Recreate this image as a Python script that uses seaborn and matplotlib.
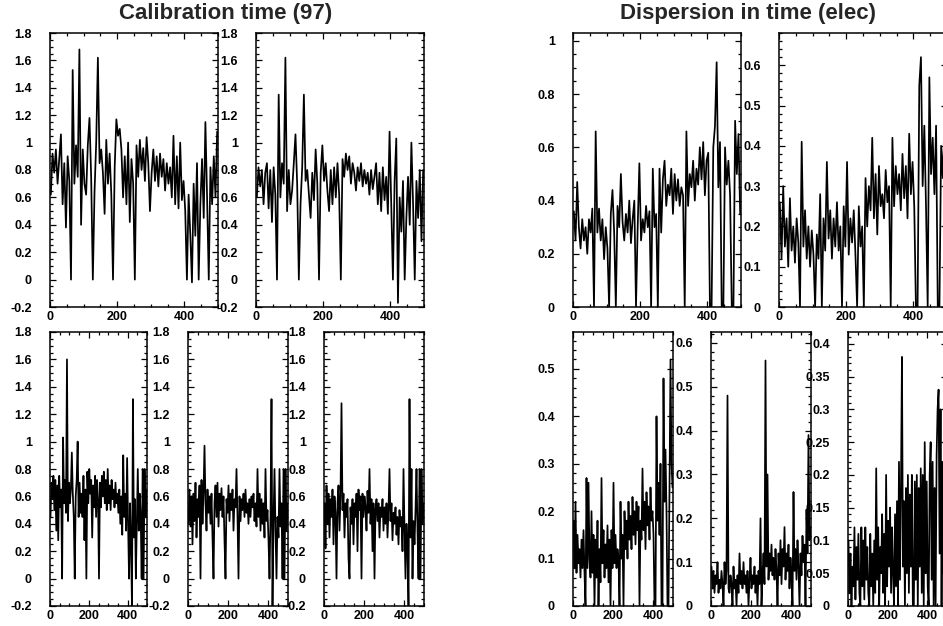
import numpy as np
import pandas as pd
import matplotlib
matplotlib.use("Agg")
import matplotlib.pyplot as plt
import seaborn as sns
from matplotlib.ticker import MultipleLocator, FuncFormatter

# ---------------- data (5-channel resolution) ----------------
channels = list(np.arange(2.5, 500, 5))

cal_a = [0.62, 0.92, 0.78, 0.95, 0.70, 0.88, 1.06, 0.55, 0.85, 0.38,
         0.90, 0.72, 0.0, 1.53, 0.70, 0.98, 0.75, 1.68, 0.40, 0.95,
         0.70, 0.62, 0.98, 1.18, 0.75, 0.0, 0.64, 1.00, 1.62, 0.85,
         0.95, 0.78, 0.48, 1.02, 0.70, 0.92, 0.62, 0.0, 0.82, 1.17,
         1.05, 1.10, 0.95, 0.60, 0.90, 0.55, 1.00, 0.42, 0.88, 0.70,
         0.0, 0.98, 0.75, 1.02, 0.80, 0.96, 0.72, 1.04, 0.85, 0.50,
         0.78, 0.95, 0.72, 0.90, 0.68, 0.92, 0.75, 0.88, 0.65, 0.85,
         0.70, 0.82, 0.60, 1.05, 0.55, 0.90, 0.52, 1.00, 0.58, 0.72,
         0.50, 0.0, 0.62, 0.33, -0.02, 0.70, 0.32, 0.85, 0.0, 0.55,
         0.88, 0.45, 1.15, 0.60, 0.0, 0.82, 0.55, 0.90, 0.60, 1.08]

cal_b = [0.60, 0.82, 0.68, 0.80, 0.55, 0.78, 0.85, 0.52, 0.80, 0.42,
         0.82, 0.62, 0.0, 1.35, 0.60, 0.85, 0.70, 1.62, 0.50, 0.80,
         0.55, 0.65, 0.85, 1.06, 0.70, 0.0, 0.55, 0.82, 1.35, 0.72,
         0.80, 0.62, 0.45, 0.78, 0.58, 0.95, 0.70, 0.0, 0.78, 0.98,
         0.72, 0.85, 0.65, 0.50, 0.80, 0.55, 0.82, 0.60, 0.85, 0.62,
         0.0, 0.88, 0.75, 0.92, 0.80, 0.90, 0.70, 0.85, 0.78, 0.65,
         0.82, 0.72, 0.85, 0.68, 0.80, 0.70, 0.78, 0.62, 0.80, 0.66,
         0.75, 0.85, 0.55, 0.78, 0.50, 0.82, 0.58, 0.75, 0.48, 1.08,
         0.55, 0.0, 0.72, 1.03, -0.17, 0.60, 0.35, 0.72, 0.0, 0.45,
         0.75, 0.40, 1.00, 0.55, 0.0, 0.72, 0.45, 0.80, 0.28, 0.80]

cal_c = [0.45, 0.70, 0.58, 0.75, 0.50, 0.72, 0.35, 0.68, 0.28, 0.75,
         0.52, 0.65, 0.0, 1.03, 0.55, 0.72, 0.48, 1.60, 0.42, 0.70,
         0.55, 0.65, 0.92, 0.62, 0.45, 0.0, 0.60, 0.72, 1.00, 0.45,
         0.70, 0.48, 0.62, 0.45, 0.75, 0.28, 0.65, 0.0, 0.78, 0.55,
         0.80, 0.62, 0.72, 0.30, 0.68, 0.52, 0.75, 0.45, 0.72, 0.58,
         0.0, 0.70, 0.52, 0.75, 0.60, 0.78, 0.55, 0.72, 0.50, 0.80,
         0.55, 0.68, 0.50, 0.72, 0.58, 0.65, 0.52, 0.70, 0.55, 0.62,
         0.48, 0.65, 0.40, 0.60, 0.32, 0.90, 0.45, 0.62, 0.35, 0.88,
         0.40, 0.0, 0.55, 0.25, -0.20, 1.31, 0.30, 0.58, 0.0, 0.40,
         0.80, 0.35, 0.62, 0.45, 0.0, 0.80, 0.0, 0.80, 0.45, 0.65]

cal_d = [0.40, 0.65, 0.38, 0.60, 0.25, 0.62, 0.42, 0.70, 0.30, 0.58,
         0.45, 0.68, 0.0, 0.72, 0.40, 0.62, 0.97, 0.55, 0.35, 0.65,
         0.48, 0.60, 0.40, 0.62, 0.30, 0.0, 0.55, 0.68, 0.45, 0.70,
         0.38, 0.62, 0.50, 0.66, 0.45, 0.60, 0.28, 0.0, 0.58, 0.48,
         0.68, 0.42, 0.62, 0.50, 0.65, 0.35, 0.58, 0.52, 0.80, 0.45,
         0.0, 0.60, 0.42, 0.58, 0.50, 0.62, 0.45, 0.65, 0.48, 0.55,
         0.40, 0.58, 0.45, 0.60, 0.52, 0.62, 0.42, 0.55, 0.38, 0.80,
         0.45, 0.62, 0.35, 0.58, 0.40, 0.55, 0.30, 0.80, 0.42, 0.50,
         0.28, 0.0, 0.45, 1.31, -0.20, 0.42, 0.80, 0.35, 0.0, 0.45,
         0.30, 0.80, 0.38, 0.55, 0.0, 0.80, 0.0, 0.80, 0.35, 0.55]

cal_e = [0.55, 0.22, 0.68, 0.40, 0.62, 0.30, 0.58, 0.45, 0.65, 0.25,
         0.60, 0.48, 0.0, 0.55, 0.68, 0.35, 0.60, 1.28, 0.50, 0.62,
         0.30, 0.55, 0.45, 0.58, 0.15, 0.0, 0.52, 0.40, 0.58, 0.25,
         0.55, 0.45, 0.62, 0.20, 0.65, 0.50, 0.60, 0.0, 0.62, 0.45,
         0.60, 0.52, 0.35, 0.64, 0.48, 0.80, 0.40, 0.58, 0.20, 0.55,
         0.0, 0.50, 0.58, 0.42, 0.55, 0.30, 0.52, 0.45, 0.58, 0.35,
         0.52, 0.40, 0.55, 0.30, 0.50, 0.80, 0.42, 0.55, 0.28, 0.48,
         0.40, 0.52, 0.32, 0.45, 0.25, 0.50, 0.38, 0.45, 0.20, 0.80,
         0.35, 0.0, 0.40, 0.22, -0.20, 1.31, 0.30, 0.80, 0.0, 0.42,
         0.25, 0.50, 0.80, 0.35, 0.0, 0.80, 0.0, 0.80, 0.40, 0.55]

disp_a = [0.36, 0.25, 0.47, 0.30, 0.22, 0.33, 0.25, 0.30, 0.20, 0.33,
          0.28, 0.37, 0.0, 0.66, 0.28, 0.37, 0.25, 0.33, 0.18, 0.30,
          0.22, 0.0, 0.35, 0.44, 0.28, 0.0, 0.38, 0.30, 0.50, 0.32,
          0.25, 0.35, 0.28, 0.40, 0.24, 0.33, 0.40, 0.0, 0.30, 0.54,
          0.25, 0.33, 0.28, 0.38, 0.30, 0.36, 0.0, 0.52, 0.30, 0.35,
          0.0, 0.52, 0.28, 0.48, 0.55, 0.38, 0.46, 0.42, 0.52, 0.35,
          0.50, 0.40, 0.48, 0.38, 0.45, 0.42, 0.0, 0.66, 0.38, 0.50,
          0.45, 0.55, 0.40, 0.52, 0.46, 0.60, 0.48, 0.62, 0.42, 0.55,
          0.58, 0.0, 0.0, 0.60, 0.68, 0.92, 0.45, 0.62, 0.0, 0.0,
          0.60, 0.46, 0.55, 0.42, 0.0, 0.0, 0.70, 0.50, 0.65, 0.35]

disp_b = [0.26, 0.12, 0.30, 0.15, 0.22, 0.10, 0.27, 0.14, 0.20, 0.11,
          0.22, 0.16, 0.0, 0.41, 0.15, 0.24, 0.12, 0.20, 0.10, 0.19,
          0.13, 0.0, 0.18, 0.12, 0.28, 0.0, 0.22, 0.14, 0.36, 0.17,
          0.24, 0.12, 0.22, 0.15, 0.26, 0.14, 0.20, 0.0, 0.25, 0.15,
          0.36, 0.13, 0.22, 0.16, 0.24, 0.13, 0.0, 0.25, 0.15, 0.20,
          0.0, 0.32, 0.20, 0.30, 0.24, 0.42, 0.22, 0.33, 0.18, 0.35,
          0.25, 0.28, 0.22, 0.34, 0.26, 0.30, 0.0, 0.42, 0.25, 0.35,
          0.28, 0.33, 0.24, 0.38, 0.27, 0.35, 0.22, 0.43, 0.28, 0.36,
          0.25, 0.0, 0.0, 0.55, 0.62, 0.30, 0.45, 0.25, 0.0, 0.57,
          0.33, 0.42, 0.28, 0.45, 0.0, 0.0, 0.40, 0.32, 0.46, 0.35]

disp_c = [0.18, 0.08, 0.22, 0.07, 0.15, 0.09, 0.12, 0.06, 0.14, 0.08,
          0.16, 0.07, 0.0, 0.27, 0.08, 0.26, 0.10, 0.06, 0.20, 0.07,
          0.15, 0.0, 0.14, 0.06, 0.18, 0.0, 0.12, 0.05, 0.27, 0.09,
          0.16, 0.06, 0.13, 0.08, 0.17, 0.05, 0.14, 0.0, 0.16, 0.08,
          0.26, 0.09, 0.15, 0.08, 0.12, 0.10, 0.0, 0.22, 0.10, 0.15,
          0.0, 0.20, 0.12, 0.18, 0.10, 0.22, 0.14, 0.19, 0.12, 0.23,
          0.15, 0.20, 0.13, 0.22, 0.16, 0.21, 0.0, 0.18, 0.14, 0.29,
          0.16, 0.22, 0.12, 0.24, 0.17, 0.21, 0.14, 0.25, 0.18, 0.20,
          0.15, 0.0, 0.0, 0.40, 0.18, 0.26, 0.15, 0.30, 0.0, 0.0,
          0.48, 0.22, 0.33, 0.20, 0.0, 0.0, 0.25, 0.52, 0.30, 0.25]

disp_d = [0.09, 0.04, 0.08, 0.03, 0.07, 0.05, 0.10, 0.03, 0.06, 0.04,
          0.08, 0.05, 0.0, 0.10, 0.05, 0.08, 0.48, 0.04, 0.03, 0.07,
          0.05, 0.0, 0.09, 0.04, 0.06, 0.0, 0.07, 0.03, 0.12, 0.05,
          0.08, 0.04, 0.10, 0.05, 0.07, 0.03, 0.08, 0.0, 0.06, 0.11,
          0.04, 0.07, 0.05, 0.09, 0.03, 0.07, 0.0, 0.08, 0.05, 0.20,
          0.0, 0.07, 0.12, 0.05, 0.56, 0.09, 0.30, 0.06, 0.12, 0.08,
          0.14, 0.07, 0.11, 0.06, 0.13, 0.08, 0.0, 0.12, 0.07, 0.15,
          0.05, 0.13, 0.09, 0.18, 0.06, 0.12, 0.08, 0.14, 0.04, 0.11,
          0.07, 0.0, 0.26, 0.08, 0.13, 0.06, 0.15, 0.09, 0.0, 0.12,
          0.07, 0.16, 0.10, 0.14, 0.0, 0.22, 0.12, 0.39, 0.15, 0.18]

disp_e = [0.10, 0.02, 0.08, 0.0, 0.06, 0.03, 0.12, 0.01, 0.09, 0.04,
          0.11, 0.02, 0.0, 0.12, 0.03, 0.10, 0.01, 0.12, 0.04, 0.09,
          0.02, 0.0, 0.11, 0.03, 0.08, 0.0, 0.10, 0.02, 0.21, 0.04,
          0.12, 0.0, 0.09, 0.05, 0.14, 0.02, 0.11, 0.0, 0.20, 0.03,
          0.13, 0.06, 0.15, 0.02, 0.12, 0.05, 0.0, 0.14, 0.03, 0.16,
          0.0, 0.22, 0.04, 0.18, 0.38, 0.06, 0.16, 0.0, 0.18, 0.05,
          0.20, 0.02, 0.17, 0.06, 0.20, 0.0, 0.0, 0.19, 0.04, 0.20,
          0.0, 0.18, 0.06, 0.21, 0.02, 0.20, 0.0, 0.25, 0.05, 0.19,
          0.03, 0.0, 0.20, 0.25, 0.04, 0.22, 0.0, 0.18, 0.0, 0.23,
          0.30, 0.33, 0.08, 0.30, 0.0, 0.22, 0.05, 0.30, 0.12, 0.29]

title_left = "Calibration time (97)"
title_right = "Dispersion in time (elec)"
x_range = (0, 500)

# ---------------- style ----------------
sns.set_style("ticks")
plt.rcParams['font.family'] = ['Liberation Sans', 'DejaVu Sans']
plt.rcParams['font.weight'] = 'bold'
plt.rcParams['axes.unicode_minus'] = False

W, H = 943, 626
fig = plt.figure(figsize=(W / 100, H / 100), dpi=100)
fig.patch.set_facecolor('white')


def px_axes(x0, y0, x1, y1):
    return fig.add_axes([x0 / W, 1 - y1 / H, (x1 - x0) / W, (y1 - y0) / H])


R = 523  # horizontal offset of the right-hand group
panels = [
    (cal_a, (50, 33, 218, 307), (-0.2, 1.8), 0.2, 0.05),
    (cal_b, (256, 33, 424, 307), (-0.2, 1.8), 0.2, 0.05),
    (cal_c, (50, 332, 147, 606), (-0.2, 1.8), 0.2, 0.05),
    (cal_d, (188, 332, 288, 606), (-0.2, 1.8), 0.2, 0.05),
    (cal_e, (324, 332, 424, 606), (-0.2, 1.8), 0.2, 0.05),
    (disp_a, (50 + R, 33, 218 + R, 307), (0, 1.03), 0.2, 0.05),
    (disp_b, (256 + R, 33, 424 + R, 307), (0, 0.68), 0.1, 0.02),
    (disp_c, (50 + R, 332, 150 + R, 606), (0, 0.578), 0.1, 0.02),
    (disp_d, (188 + R, 332, 288 + R, 606), (0, 0.625), 0.1, 0.02),
    (disp_e, (325 + R, 332, 424 + R, 606), (0, 0.418), 0.05, 0.01),
]

fmt = FuncFormatter(lambda v, p: ('%g' % round(v, 4)))

for vals, box, ylim, ymaj, ymin in panels:
    ax = px_axes(*box)
    df = pd.DataFrame({'channel': channels, 'value': vals})
    sns.lineplot(data=df, x='channel', y='value', ax=ax, color='black',
                 linewidth=1.25, estimator=None, errorbar=None)
    ax.set_xlim(*x_range)
    ax.set_ylim(*ylim)
    ax.set_xlabel('')
    ax.set_ylabel('')
    ax.xaxis.set_major_locator(MultipleLocator(200))
    ax.xaxis.set_minor_locator(MultipleLocator(50))
    ax.yaxis.set_major_locator(MultipleLocator(ymaj))
    ax.yaxis.set_minor_locator(MultipleLocator(ymin))
    ax.yaxis.set_major_formatter(fmt)
    ax.xaxis.set_major_formatter(fmt)
    ax.tick_params(which='both', direction='in', top=True, right=True,
                   labelsize=9, width=0.9, colors='black')
    ax.tick_params(which='major', length=4.5)
    ax.tick_params(which='minor', length=2.3)
    ax.tick_params(axis='y', pad=13)
    ax.tick_params(axis='x', pad=3)
    for lab in ax.get_xticklabels() + ax.get_yticklabels():
        lab.set_fontweight('bold')
    for sp in ax.spines.values():
        sp.set_linewidth(1.1)
        sp.set_color('black')
        sp.set_visible(True)
    ax.set_facecolor('white')

fig.text(225.5 / W, 1 - 13 / H, title_left, ha='center', va='center',
         fontsize=16, fontweight='bold')
fig.text((225.5 + R) / W, 1 - 13 / H, title_right, ha='center', va='center',
         fontsize=16, fontweight='bold')

fig.savefig('out.png', dpi=100)
